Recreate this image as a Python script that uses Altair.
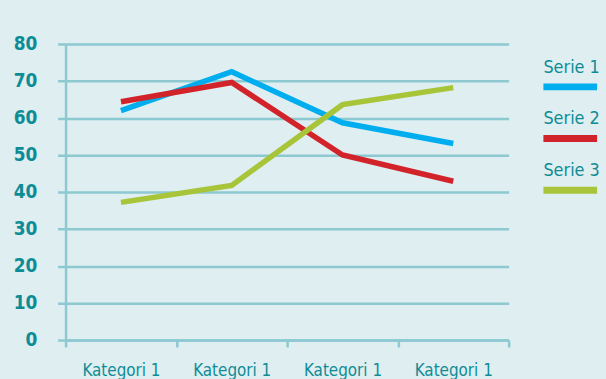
import json
import altair as alt
import pandas as pd

categories = ["Kategori 1", "Kategori 1", "Kategori 1", "Kategori 1"]
series_names = ["Serie 1", "Serie 2", "Serie 3"]
serie1 = [62.0, 72.5, 58.7, 53.1]
serie2 = [64.4, 69.6, 50.0, 42.9]
serie3 = [37.2, 41.8, 63.6, 68.2]
y_ticks = [0, 10, 20, 30, 40, 50, 60, 70, 80]
colors = ["#00AEEF", "#D2232A", "#A8C53A"]

BG = "#DFEEF1"
GRID = "#8DC9D1"
TEAL = "#0E8C96"
FONT = "DejaVu Sans Condensed, sans-serif"

rows = []
for name, vals in zip(series_names, [serie1, serie2, serie3]):
    for i, v in enumerate(vals):
        rows.append({"idx": i, "series": name, "value": v})
df = pd.DataFrame(rows)

label_expr = json.dumps(categories) + "[datum.value]"
color_scale = alt.Scale(domain=series_names, range=colors)

main = alt.Chart(df).mark_line(strokeWidth=5.5, strokeCap="butt", strokeJoin="miter").encode(
    x=alt.X(
        "idx:O",
        scale=alt.Scale(type="band", paddingInner=0, paddingOuter=0),
        axis=alt.Axis(
            title=None, labelExpr=label_expr, labelAngle=0, tickBand="extent",
            domainColor=GRID, domainWidth=2.5, tickColor=GRID, tickWidth=2.5, tickSize=7,
            labelFont=FONT, labelFontSize=17, labelColor=TEAL, labelPadding=16,
            labelBaseline="top", grid=False,
        ),
    ),
    y=alt.Y(
        "value:Q",
        scale=alt.Scale(domain=[0, 80], nice=False),
        axis=alt.Axis(
            title=None, values=y_ticks, grid=True, gridColor=GRID, gridWidth=2.5,
            domainColor=GRID, domainWidth=2.5, tickColor=GRID, tickWidth=2.5, tickSize=8,
            labelFont=FONT, labelFontSize=19, labelFontWeight="bold", labelColor=TEAL,
            labelPadding=21, labelBaseline="middle",
        ),
    ),
    color=alt.Color("series:N", scale=color_scale, legend=None),
).properties(width=446, height=298)

leg_df = pd.DataFrame({"series": series_names})
leg_scale = alt.Scale(type="band", domain=series_names, paddingInner=0, paddingOuter=0)
leg_text = alt.Chart(leg_df).mark_text(
    align="left", baseline="middle", font=FONT, fontSize=18, color=TEAL
).encode(
    y=alt.Y("series:N", scale=leg_scale, axis=None, bandPosition=0.46),
    x=alt.value(0),
    text="series:N",
)
leg_rule = alt.Chart(leg_df).mark_rule(strokeWidth=7).encode(
    y=alt.Y("series:N", scale=leg_scale, axis=None, bandPosition=0.83),
    x=alt.value(0),
    x2=alt.value(54),
    color=alt.Color("series:N", scale=color_scale, legend=None),
)
legend = alt.layer(leg_text, leg_rule).properties(width=54, height=156)

chart = alt.hconcat(main, legend, spacing=29).properties(
    padding={"left": 13, "top": 34, "right": 5, "bottom": 5},
    background=BG,
).configure_view(stroke=None)

chart.save("out.html", embed_options={"renderer": "svg", "actions": False})
